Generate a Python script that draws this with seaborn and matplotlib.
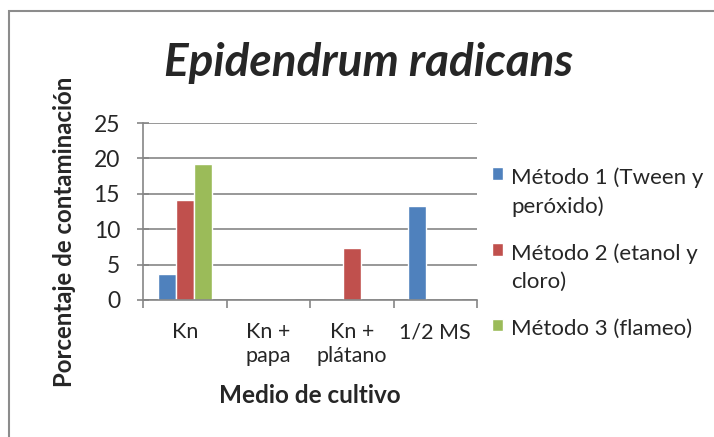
import pandas as pd
import seaborn as sns
import matplotlib.pyplot as plt
from matplotlib.patches import Rectangle

# Contaminación por medio de cultivo y método de desinfección

medios = ['Kn', 'Kn +\npapa', 'Kn +\nplátano', '1/2 MS']
metodos = ['Método 1 (Tween y\nperóxido)', 'Método 2 (etanol y\ncloro)', 'Método 3 (flameo)']
metodo_1 = [3.7, 0, 0, 13.3]
metodo_2 = [14.1, 0, 7.4, 0]
metodo_3 = [19.2, 0, 0, 0]
colores = ['#4F81BD', '#C0504D', '#9BBB59']

datos = pd.DataFrame({
    'Medio': medios * 3,
    'Método': [m for m in metodos for _ in medios],
    'Porcentaje': metodo_1 + metodo_2 + metodo_3,
})

sns.set_style('white')
plt.rcParams['font.family'] = ['Lato', 'DejaVu Sans']

fig = plt.figure(figsize=(7.14, 4.37), dpi=100)
ax = fig.add_axes([143 / 714, 137 / 437, 334 / 714, 177 / 437])

sns.barplot(data=datos, x='Medio', y='Porcentaje', hue='Método',
            palette=colores, width=0.65, saturation=1, ax=ax)

gris = '#868686'
ax.set_ylim(0, 25)
ax.set_xlim(-0.5, 3.5)
ax.set_yticks([0, 5, 10, 15, 20, 25])
ax.yaxis.grid(True, color=gris, linewidth=1.2)
ax.set_axisbelow(True)
for lado in ['top', 'right']:
    ax.spines[lado].set_visible(False)
for lado in ['left', 'bottom']:
    ax.spines[lado].set_color(gris)
    ax.spines[lado].set_linewidth(1.2)

ax.tick_params(axis='y', direction='inout', length=8, width=1.2, color=gris,
               labelsize=16.5, pad=12.5, left=True)
ax.set_xticks([-0.5, 0.5, 1.5, 2.5, 3.5], minor=True)
ax.tick_params(axis='x', which='minor', direction='out', length=6, width=1.2,
               color=gris, bottom=True)
ax.tick_params(axis='x', which='major', length=0, labelsize=15.5, pad=16)
for t in ax.get_xticklabels():
    t.set_linespacing(1.22)
    t.set_va('top')

ax.set_ylabel('Porcentaje de contaminación', fontsize=17.3, fontweight='bold')
ax.yaxis.set_label_coords(-0.2, 0.385)
ax.set_xlabel('Medio de cultivo', fontsize=17.5, fontweight='bold')
ax.xaxis.set_label_coords(0.5, -0.475)

sns.move_legend(ax, loc='upper left', bbox_to_anchor=(1.045, 0.75), frameon=False,
                title=None, fontsize=16, handlelength=0.5, handleheight=0.5,
                handletextpad=0.35, labelspacing=1.2, borderaxespad=0, borderpad=0)
leyenda = ax.get_legend()
for t in leyenda.get_texts():
    t.set_linespacing(1.5)
# cuadro de color a la altura de la primera línea, como en Excel
for columna in leyenda._legend_handle_box.get_children():
    for fila in columna.get_children():
        fila.align = 'top'

fig.text(369 / 714, 1 - 63 / 437, 'Epidendrum radicans', ha='center', va='center',
         fontsize=33, fontweight='bold', fontstyle='italic')

fig.patches.append(Rectangle((9 / 714, -0.05), 1.1, 1 - 11 / 437 + 0.05,
                             transform=fig.transFigure, fill=False,
                             edgecolor='#8c8c8c', linewidth=1.5))

fig.savefig('out.png', dpi=100)
